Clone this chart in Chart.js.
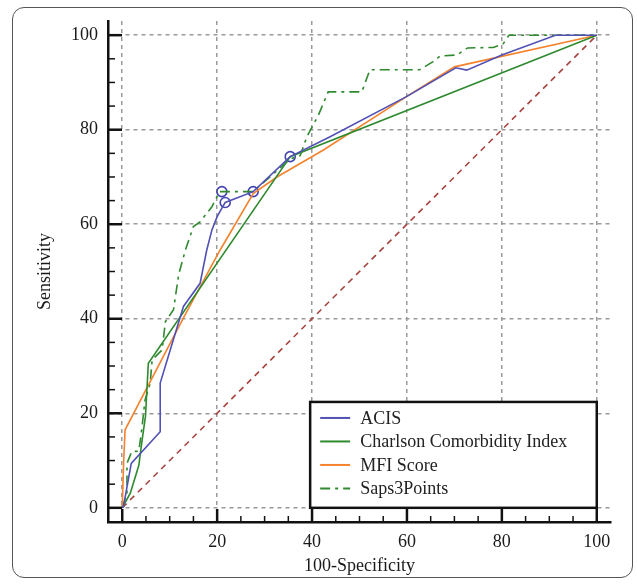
<!DOCTYPE html>
<html>
<head>
<meta charset="utf-8">
<script src="https://cdn.jsdelivr.net/npm/chart.js@4.4.1/dist/chart.umd.min.js"></script>
<style>
  html, body { margin: 0; padding: 0; background: #fff; }
  #wrap { position: relative; width: 637px; height: 584px; }
  #frame { position: absolute; left: 12px; top: 7px; width: 619px; height: 569px;
           border: 1.5px solid #555; border-radius: 12px; pointer-events: none; }
</style>
</head>
<body>
<div id="wrap">
  <canvas id="roc" width="637" height="584"></canvas>
  <div id="frame"></div>
</div>
<script>
// values (100-Specificity vs Sensitivity)
const acisX = [0, 0.3, 1.9, 8, 8, 12.9, 16.4, 17.8, 18.9, 20, 21, 21.7, 27.6, 35.4, 43.8, 59.9, 70.3, 72.6, 80, 91.3, 100];
const acisY = [0, 0.5, 9.4, 16.1, 26.4, 42.6, 47.5, 54.5, 58.8, 61.6, 63.4, 64.6, 66.9, 74.3, 78.5, 87, 93.1, 92.6, 95.8, 100, 100];

const markX = [21, 21.7, 27.6, 35.4];
const markY = [66.9, 64.6, 66.9, 74.3];

const charlsonX = [0, 1.7, 3.5, 4.1, 4.9, 5.5, 35.4, 100];
const charlsonY = [0, 3.1, 9, 13.7, 19.4, 30.6, 74.3, 100];

const mfiX = [0, 0.3, 0.6, 12.9, 20.6, 27.6, 32.6, 42.4, 59.9, 70, 100];
const mfiY = [0, 9.8, 16.5, 40.2, 54.5, 66.5, 70, 75.7, 87, 93.3, 100];

const sapsX = [0, 1, 1, 2, 3.5, 4.1, 4.8, 5.9, 6.3, 8.4, 9.1, 10.8, 11.9, 13.3, 15, 16.4, 18.9, 20.5, 27.6, 35.4, 37.5, 38.9, 41.3, 43.4, 50.5, 52.2, 62.7, 65.5, 67, 70.5, 72.8, 78.2, 80.3, 81.5, 100];
const sapsY = [0, 3, 9.4, 11.9, 12, 16.5, 22.8, 26.4, 31.3, 33.4, 39.4, 41.9, 49.4, 54.5, 59.5, 60.5, 63.7, 66.9, 66.9, 73.8, 74.5, 78.5, 83, 88, 88, 92.7, 92.7, 94.4, 95.6, 95.8, 97.3, 97.4, 98.2, 100, 100];

const diagX = [0, 100];
const diagY = [0, 100];

const seriesNames = ['ACIS', 'Charlson Comorbidity Index', 'MFI Score', 'Saps3Points'];
const axisTicks = [0, 20, 40, 60, 80, 100];

const toPoints = (xs, ys) => xs.map((v, i) => ({x: v, y: ys[i]}));
const serif = "'Liberation Serif', 'Times New Roman', serif";

const curve = (label, xs, ys, color, dash) => ({
  label: label,
  data: toPoints(xs, ys),
  showLine: true,
  borderColor: color,
  backgroundColor: color,
  borderWidth: 1.6,
  borderDash: dash || [],
  pointRadius: 0,
  inLegend: true
});

// inward ticks + boxed legend like the original plot
const rocExtras = {
  id: 'rocExtras',
  afterDatasetsDraw(chart) {
    const {ctx, chartArea: area, scales: {x, y}} = chart;
    ctx.save();

    // legend box
    const left = x.getPixelForValue(39.6);
    const right = x.getPixelForValue(100);
    const top = y.getPixelForValue(22.4);
    const bottom = y.getPixelForValue(0);
    ctx.fillStyle = '#fff';
    ctx.fillRect(left, top, right - left, bottom - top);
    ctx.strokeStyle = '#111';
    ctx.lineWidth = 2.5;
    ctx.setLineDash([]);
    ctx.strokeRect(left, top, right - left, bottom - top);

    ctx.font = '18px ' + serif;
    ctx.textBaseline = 'middle';
    ctx.textAlign = 'left';
    const items = chart.data.datasets.filter(d => d.inLegend);
    items.forEach((d, i) => {
      const rowY = top + 16 + i * 23.5;
      ctx.strokeStyle = d.borderColor;
      ctx.lineWidth = 2;
      ctx.setLineDash(d.borderDash);
      ctx.beginPath();
      ctx.moveTo(left + 10, rowY);
      ctx.lineTo(left + 40, rowY);
      ctx.stroke();
      ctx.setLineDash([]);
      ctx.fillStyle = '#222';
      ctx.fillText(d.label, left + 50, rowY + 1);
    });

    // tick marks pointing into the plot
    ctx.strokeStyle = '#111';
    for (let v = 0; v <= 100; v += 5) {
      const major = v % 20 === 0;
      ctx.lineWidth = major ? 2.5 : 1.5;
      const len = major ? 13 : 6;
      const px = x.getPixelForValue(v);
      ctx.beginPath();
      ctx.moveTo(px, area.bottom);
      ctx.lineTo(px, area.bottom - len);
      ctx.stroke();
      const py = y.getPixelForValue(v);
      ctx.beginPath();
      ctx.moveTo(area.left, py);
      ctx.lineTo(area.left + len + 1, py);
      ctx.stroke();
    }
    ctx.restore();
  }
};

const axis = (title, isX) => ({
  type: 'linear',
  min: -3,
  max: 103,
  afterBuildTicks: (scale) => { scale.ticks = axisTicks.map(v => ({value: v})); },
  afterFit: (scale) => {
    if (isX) scale.height = 62; else scale.width = 108;
  },
  grid: {
    color: '#9a9a9a',
    lineWidth: 1.5,
    drawTicks: false,
    tickLength: 0
  },
  border: {
    display: true,
    color: '#111',
    width: 2.5,
    dash: [4, 4]   // v4 uses border.dash for the grid lines
  },
  ticks: {
    color: '#1a1a1a',
    padding: isX ? 9 : 10,
    font: {family: serif, size: 18}
  },
  title: {
    display: true,
    text: title,
    color: '#1a1a1a',
    font: {family: serif, size: 18},
    padding: isX ? {top: 0, bottom: 7} : {top: 34, bottom: 0}
  }
});

new Chart(document.getElementById('roc'), {
  type: 'scatter',
  data: {
    datasets: [
      curve(seriesNames[0], acisX, acisY, '#5151b5'),
      curve(seriesNames[1], charlsonX, charlsonY, '#2f8a2f'),
      curve(seriesNames[2], mfiX, mfiY, '#f5822c'),
      curve(seriesNames[3], sapsX, sapsY, '#2f8a2f', [10, 5, 3, 5]),
      {
        label: 'reference',
        data: toPoints(diagX, diagY),
        showLine: true,
        borderColor: '#a5443e',
        borderWidth: 1.6,
        borderDash: [6, 5],
        pointRadius: 0
      },
      {
        label: 'criterion',
        data: toPoints(markX, markY),
        showLine: false,
        pointStyle: 'circle',
        pointRadius: 5,
        pointBorderWidth: 1.6,
        pointBorderColor: '#4444b0',
        pointBackgroundColor: 'rgba(255,255,255,0)'
      }
    ]
  },
  options: {
    responsive: false,
    animation: false,
    layout: {padding: {top: 21, right: 26, left: 0, bottom: 0}},
    scales: {x: axis('100-Specificity', true), y: axis('Sensitivity', false)},
    plugins: {
      legend: {display: false},
      tooltip: {enabled: false}
    }
  },
  plugins: [rocExtras]
});
</script>
</body>
</html>
